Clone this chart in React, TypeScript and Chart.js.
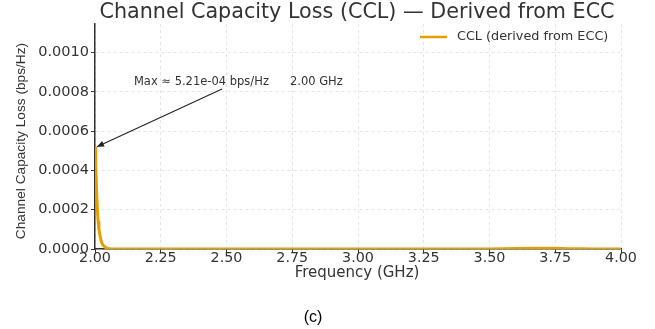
import React, { useEffect, useRef } from "react";
import { Chart, registerables } from "chart.js";

Chart.register(...registerables);

const frequencies = [
  2.0, 2.003, 2.006, 2.009, 2.012, 2.015, 2.02, 2.025, 2.03, 2.04, 2.05, 2.06, 2.08, 2.1,
  2.25, 2.5, 2.75, 3.0, 3.25, 3.5, 3.55, 3.6, 3.65, 3.7, 3.75, 3.8, 3.85, 3.9, 4.0,
];
const cclValues = [
  5.21e-4, 4.2e-4, 3.0e-4, 2.0e-4, 1.4e-4, 1.0e-4, 6.0e-5, 3.5e-5, 2.0e-5, 8.0e-6, 3.0e-6, 1.2e-6, 4.0e-7, 2.0e-7,
  1.0e-7, 1.0e-7, 1.0e-7, 1.0e-7, 1.0e-7, 2.0e-7, 8.0e-7, 2.0e-6, 3.5e-6, 4.0e-6, 3.5e-6, 1.8e-6, 7.0e-7, 3.0e-7, 1.0e-7,
];
const xTickStep = 0.25;
const yTickStep = 0.0002;
const xRange = [2.0, 4.0];
const yRange = [0, 0.001146];
const peakFreq = 2.0;
const peakValue = 5.21e-4;
const annotationText = ["Max \u2248 5.21e-04 bps/Hz", "2.00 GHz"];
const annotationTextPos = [2.148, 0.00085];
const arrowStart = [2.483, 0.000815];

const titleText = "Channel Capacity Loss (CCL) \u2014 Derived from ECC";
const legendLabel = "CCL (derived from ECC)";
const xTitle = "Frequency (GHz)";
const yTitle = "Channel Capacity Loss (bps/Hz)";
const captionText = "(c)";

const LINE_COLOR = "#E69F00";
const TEXT_COLOR = "#333333";

export default function App() {
  const ref = useRef<HTMLCanvasElement | null>(null);

  useEffect(() => {
    document.body.style.margin = "0";
    const canvas = ref.current;
    if (!canvas) return;

    const decor = {
      id: "decor",
      afterDraw(chart: any) {
        const ctx = chart.ctx as CanvasRenderingContext2D;
        const xs = chart.scales.x;
        const ys = chart.scales.y;
        ctx.save();
        // title
        ctx.fillStyle = TEXT_COLOR;
        ctx.font = "20.7px 'DejaVu Sans'";
        ctx.textAlign = "center";
        ctx.textBaseline = "middle";
        ctx.fillText(titleText, 357, 13);
        // x title
        ctx.font = "15px 'DejaVu Sans'";
        ctx.fillText(xTitle, 357, 273);
        // y title
        ctx.save();
        ctx.translate(21, 141);
        ctx.rotate(-Math.PI / 2);
        ctx.font = "13.7px 'Liberation Sans'";
        ctx.fillText(yTitle, 0, 0);
        ctx.restore();
        // caption
        ctx.font = "16px 'Liberation Sans'";
        ctx.fillStyle = "#000";
        ctx.fillText(captionText, 313, 318);
        // legend
        ctx.strokeStyle = LINE_COLOR;
        ctx.lineWidth = 2.5;
        ctx.beginPath();
        ctx.moveTo(420, 37);
        ctx.lineTo(447, 37);
        ctx.stroke();
        ctx.fillStyle = TEXT_COLOR;
        ctx.font = "12.8px 'DejaVu Sans'";
        ctx.textAlign = "left";
        ctx.fillText(legendLabel, 457, 37);
        // annotation
        ctx.font = "11.5px 'DejaVu Sans'";
        const tx = xs.getPixelForValue(annotationTextPos[0]);
        const ty = ys.getPixelForValue(annotationTextPos[1]);
        ctx.fillText(annotationText[0], tx, ty);
        ctx.fillText(annotationText[1], tx + 156, ty);
        const sx = xs.getPixelForValue(arrowStart[0]);
        const sy = ys.getPixelForValue(arrowStart[1]);
        const ex = xs.getPixelForValue(peakFreq) + 2;
        const ey = ys.getPixelForValue(peakValue);
        ctx.strokeStyle = "#222";
        ctx.fillStyle = "#222";
        ctx.lineWidth = 1.1;
        ctx.beginPath();
        ctx.moveTo(sx, sy);
        ctx.lineTo(ex, ey);
        ctx.stroke();
        const ang = Math.atan2(ey - sy, ex - sx);
        const hl = 7, hw = 3;
        ctx.beginPath();
        ctx.moveTo(ex, ey);
        ctx.lineTo(ex - hl * Math.cos(ang) + hw * Math.sin(ang), ey - hl * Math.sin(ang) - hw * Math.cos(ang));
        ctx.lineTo(ex - hl * Math.cos(ang) - hw * Math.sin(ang), ey - hl * Math.sin(ang) + hw * Math.cos(ang));
        ctx.closePath();
        ctx.fill();
        ctx.restore();
      },
    };

    const chart = new Chart(canvas, {
      type: "line",
      data: {
        datasets: [
          {
            label: legendLabel,
            data: frequencies.map((f, i) => ({ x: f, y: cclValues[i] })),
            borderColor: LINE_COLOR,
            backgroundColor: LINE_COLOR,
            borderWidth: 3,
            pointRadius: 0,
            tension: 0,
          },
        ],
      },
      options: {
        animation: false,
        responsive: false,
        devicePixelRatio: 1,
        layout: { padding: { top: 24, right: 34, left: 0, bottom: 0 } },
        plugins: { legend: { display: false }, title: { display: false }, tooltip: { enabled: false } },
        scales: {
          x: {
            type: "linear",
            min: xRange[0],
            max: xRange[1],
            afterFit: (s: any) => { s.height = 80; },
            ticks: {
              stepSize: xTickStep,
              color: TEXT_COLOR,
              font: { family: "'DejaVu Sans'", size: 14.3 },
              padding: -3,
              maxRotation: 0,
              callback: (v: any) => Number(v).toFixed(2),
            },
            grid: { color: "rgba(0,0,0,0.1)", tickColor: "#333", tickLength: 4, tickBorderDash: [], drawTicks: true },
            border: { color: "#333", width: 1.5, dash: [3, 3] },
          },
          y: {
            type: "linear",
            min: yRange[0],
            max: yRange[1],
            afterFit: (s: any) => { s.width = 95; },
            afterBuildTicks: (s: any) => {
              s.ticks = s.ticks.filter((t: any) => Math.abs(t.value / yTickStep - Math.round(t.value / yTickStep)) < 1e-6);
            },
            ticks: {
              stepSize: yTickStep,
              color: TEXT_COLOR,
              font: { family: "'DejaVu Sans'", size: 14.5 },
              padding: 2,
              callback: (v: any) => Number(v).toFixed(4),
            },
            grid: { color: "rgba(0,0,0,0.1)", tickColor: "#333", tickLength: 4, tickBorderDash: [], drawTicks: true },
            border: { color: "#333", width: 1.5, dash: [3, 3] },
          },
        },
      },
      plugins: [decor],
    });
    return () => chart.destroy();
  }, []);

  return <canvas ref={ref} width={655} height={329} style={{ display: "block" }} />;
}
